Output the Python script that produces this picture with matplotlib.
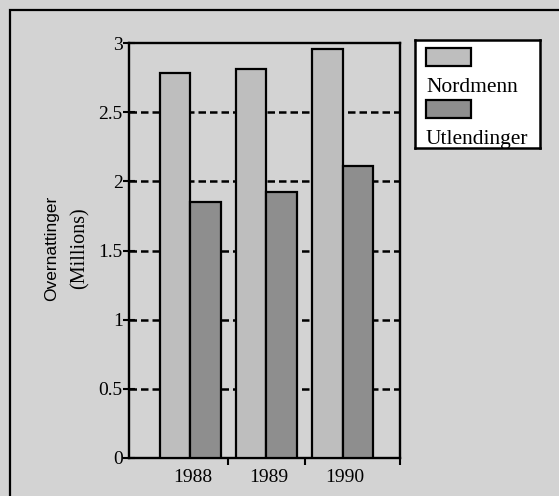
import numpy as np
import matplotlib
matplotlib.use("Agg")
from matplotlib import pyplot as plt
from matplotlib.patches import Rectangle

# データ
years = ["1988", "1989", "1990"]
nordmenn = [2.78, 2.81, 2.96]
utlendinger = [1.85, 1.92, 2.11]
series_names = ["Nordmenn", "Utlendinger"]
yticks = [0, 0.5, 1, 1.5, 2, 2.5, 3]
ytick_labels = ["0", "0.5", "1", "1.5", "2", "2.5", "3"]

bg_col = "#d3d3d3"
nord_col = "#bebebe"
utl_col = "#8e8e8e"
serif = "Liberation Serif"
sans = "Liberation Sans"

W, H = 559, 496
fig = plt.figure(figsize=(W / 100, H / 100), dpi=100)
fig.patch.set_facecolor(bg_col)

# outer frame (right/bottom edges run off the picture)
fig.patches.append(Rectangle((10 / W, -0.1), 1.2, 1 - 10 / H + 0.1,
                             transform=fig.transFigure, fill=False,
                             edgecolor="black", linewidth=1.6))

ax = fig.add_axes([129 / W, 1 - 458 / H, 271 / W, 415 / H])
ax.set_facecolor(bg_col)

x = np.arange(len(years))
w = 0.40
ax.bar(x - w / 2, nordmenn, w, color=nord_col, edgecolor="black", linewidth=1.6, zorder=3)
ax.bar(x + w / 2, utlendinger, w, color=utl_col, edgecolor="black", linewidth=1.6, zorder=3)

# 破線グリッド
for yv in yticks[1:-1]:
    ax.axhline(yv, color="black", linewidth=1.8, linestyle=(0, (3.0, 1.6)), zorder=1)

ax.set_xlim(-0.8, 2.75)
ax.set_ylim(0, 3)
ax.set_yticks(yticks)
ax.set_yticklabels(ytick_labels, fontfamily=serif, fontsize=14)
ax.tick_params(axis="y", direction="inout", length=9, width=1.5, pad=0)

ax.set_xticks(x + 0.03)
ax.set_xticklabels(years, fontfamily=serif, fontsize=14)
ax.tick_params(axis="x", which="major", length=0, pad=8)
ax.set_xticks([0.5, 1.5, 2.75], minor=True)
ax.tick_params(axis="x", which="minor", direction="out", length=5, width=1.5)

for s in ax.spines.values():
    s.set_linewidth(1.7)

# y label (2 lines, different faces)
fig.text(52 / W, 1 - 248 / H, "Overnattinger", rotation=90, ha="center", va="center",
         fontfamily=sans, fontsize=12.5)
fig.text(80 / W, 1 - 248 / H, "(Millions)", rotation=90, ha="center", va="center",
         fontfamily=serif, fontsize=14.5)

# legend box
lax = fig.add_axes([415 / W, 1 - 148 / H, 125 / W, 108 / H])
lax.set_xlim(0, 125)
lax.set_ylim(108, 0)
lax.set_xticks([])
lax.set_yticks([])
lax.set_facecolor("white")
for s in lax.spines.values():
    s.set_linewidth(1.8)
for i, (name, col) in enumerate(zip(series_names, [nord_col, utl_col])):
    y0 = 8 + i * 52
    lax.add_patch(Rectangle((11, y0), 45, 18, facecolor=col, edgecolor="black", linewidth=1.6))
    lax.text(11, y0 + 44, name, fontfamily=serif, fontsize=15.5, ha="left", va="baseline")

fig.savefig("out.png", dpi=100, facecolor=fig.get_facecolor())
